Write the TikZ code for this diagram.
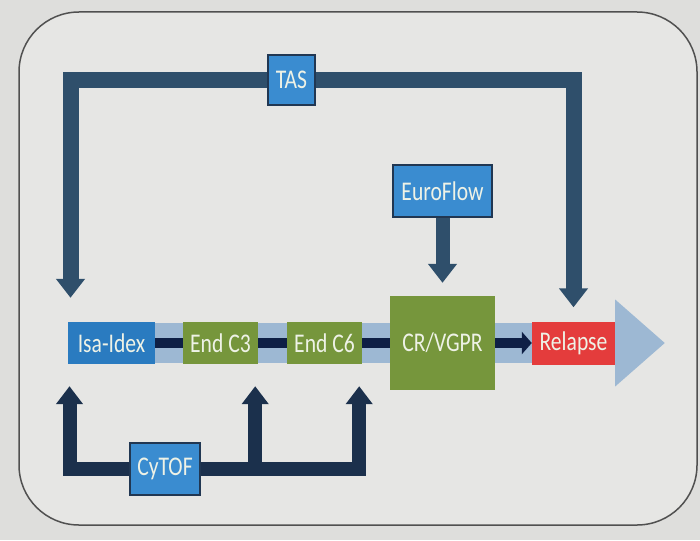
\documentclass[tikz,border=0pt]{standalone}
\usepackage{fontspec}
\newfontfamily\slidefont[FakeStretch=0.8]{Carlito}
\usetikzlibrary{arrows.meta}
\definecolor{slidebg}{HTML}{DEDEDC}
\definecolor{slidein}{HTML}{E6E6E4}
\definecolor{framecol}{HTML}{505050}
\definecolor{feedcol}{HTML}{2F4F6B}
\definecolor{cycol}{HTML}{1B304C}
\definecolor{toolblue}{HTML}{3A8CD0}
\definecolor{toolline}{HTML}{213752}
\definecolor{isablue}{HTML}{2A7BC0}
\definecolor{stagegreen}{HTML}{76963C}
\definecolor{relred}{HTML}{E43C3C}
\definecolor{bandblue}{HTML}{9DB8D3}
\definecolor{linknavy}{HTML}{0E1F45}
\definecolor{boxtext}{HTML}{EEF2E6}

\begin{document}
\begin{tikzpicture}[
    x=1pt, y=-1pt,
    label/.style={inner sep=0pt, text=boxtext, font=\slidefont\fontsize{27}{30}\selectfont},
    stage/.style={label, fill=stagegreen, minimum width=75pt, minimum height=42pt},
    tool/.style={label, fill=toolblue, draw=toolline, line width=2pt},
    feed/.style={draw=feedcol, line width=16pt, -{Triangle[width=28pt,length=19pt]}},
    cyfeed/.style={draw=cycol, line width=14pt, -{Triangle[width=26pt,length=18pt]}, shorten >=22pt},
    link/.style={draw=linknavy, line width=10pt},
    band/.style={draw=bandblue, line width=40pt, -{Triangle[width=84pt,length=50pt]}}
    ]
    % slide and its frame
    \useasboundingbox[fill=slidebg] (0,0) rectangle (700,540);
    \draw[framecol, fill=slidein, line width=1.5pt, rounded corners=60pt] (19,12) rectangle (697,525);

    % time line
    \coordinate (bandstart) at (112,343);
    \coordinate (bandtip) at (665,343);
    \draw[band] (bandstart) -- (bandtip);

    % stages
    \node[label, fill=isablue, minimum width=87pt, minimum height=42pt] (isa) at (111.5,343) {Isa-Idex};
    \node[stage] (c3) at (220.5,343) {End C3};
    \node[stage] (c6) at (324.5,343) {End C6};
    \node[stage, minimum width=105pt, minimum height=94pt] (cr) at (442.5,343) {CR/VGPR};
    \node[label, fill=relred, minimum width=83pt, minimum height=43pt] (relapse) at (573.5,343) {Relapse};

    \draw[link] (isa.east) -- (c3.west);
    \draw[link] (c3.east) -- (c6.west);
    \draw[link] (c6.east) -- (cr.west);
    \draw[link, -{Triangle[width=22pt,length=10pt]}] (cr.east) -- (relapse.west);

    % methods
    \node[tool, minimum width=47pt, minimum height=50pt] (tas) at (291.5,80) {TAS};
    \node[tool, minimum width=99pt, minimum height=52pt] (euro) at (442.5,191) {EuroFlow};
    \node[tool, minimum width=70pt, minimum height=52pt] (cytof) at (165,469) {CyTOF};

    \draw[feed, shorten >=24pt] (tas.west) -| ([xshift=-41pt]isa.north);
    \draw[feed, shorten >=14pt] (tas.east) -| (relapse.north);
    \draw[feed, line width=14pt, shorten >=13pt] (euro.south) -- (cr.north);

    \draw[cyfeed] (cytof.west) -| ([xshift=-42pt]isa.south);
    \draw[cyfeed] (cytof.east) -| ([xshift=-3pt]c6.south east);
    \draw[cyfeed] ([xshift=-3pt]c3.south east |- cytof.east) -- ([xshift=-3pt]c3.south east);
  \end{tikzpicture}
\end{document}
